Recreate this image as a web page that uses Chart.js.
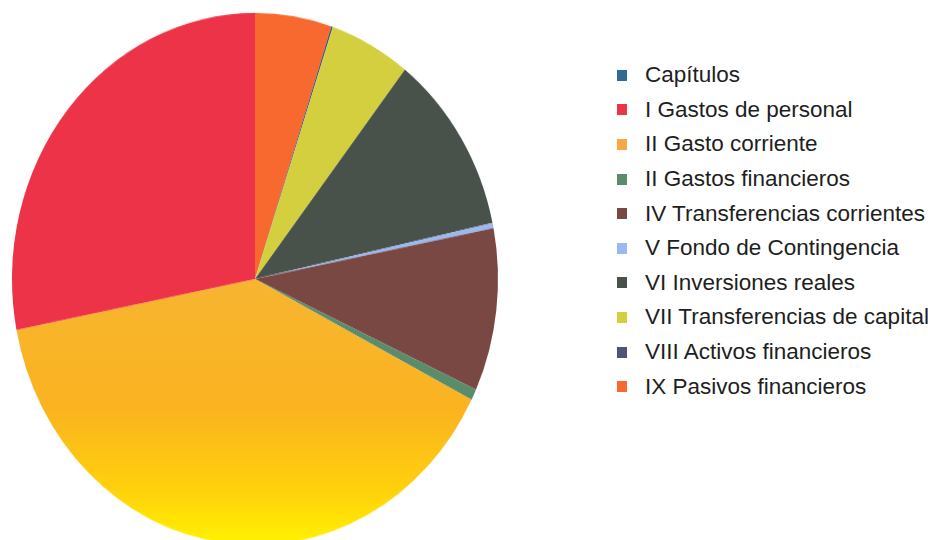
<!DOCTYPE html>
<html>
<head>
<meta charset="utf-8">
<script src="https://cdn.jsdelivr.net/npm/chart.js@4/dist/chart.umd.min.js"></script>
<style>
  html, body { margin: 0; padding: 0; background: #ffffff; }
  body { width: 928px; height: 540px; position: relative; overflow: hidden; }
  #pieWrap { position: absolute; left: 5px; top: 29px; width: 500px; height: 500px;
             transform: scaleY(1.095); transform-origin: 250px 250px; }
  #legend { position: absolute; left: 617px; top: 58px; margin: 0; padding: 0; list-style: none;
            font-family: "Liberation Sans", Arial, sans-serif; font-size: 22.5px; color: #1e1e1e; }
  #legend li { height: 34.6px; line-height: 26px; white-space: nowrap; display: flex; align-items: center; }
  #legend li span.box { display: inline-block; width: 10px; height: 11px; margin-right: 18px; }
</style>
</head>
<body>
<div id="pieWrap"><canvas id="pie" width="500" height="500"></canvas></div>
<ul id="legend"></ul>
<script>
// Legend order (as in the reference)
const categories = [
  "Capítulos",
  "I Gastos de personal",
  "II Gasto corriente",
  "II Gastos financieros",
  "IV Transferencias corrientes",
  "V Fondo de Contingencia",
  "VI Inversiones reales",
  "VII Transferencias de capital",
  "VIII Activos financieros",
  "IX Pasivos financieros"
];
// Share of the total (%)
const values = [0, 28.06, 39.44, 0.67, 9.89, 0.33, 11.03, 5.39, 0.11, 5.08];
const colors = ["#2f6b93", "#ec3348", "#f6a845", "#5a8c6c", "#7a4843", "#9bb9f0", "#48514a", "#d3cf3f", "#4e5478", "#f8692f"];

// Slices run counter-clockwise from the top in the reference: reverse data for Chart.js
const rLabels = categories.slice().reverse();
const rValues = values.slice().reverse();
const rColors = colors.slice().reverse();
const goldLabel = "II Gasto corriente";

new Chart(document.getElementById("pie"), {
  type: "pie",
  data: {
    labels: rLabels,
    datasets: [{
      data: rValues,
      borderWidth: 0,
      backgroundColor: function (ctx) {
        const lbl = rLabels[ctx.dataIndex];
        if (lbl === goldLabel) {
          const c = ctx.chart.ctx;
          const g = c.createLinearGradient(0, 240, 0, 495);
          g.addColorStop(0, "#f7b532");
          g.addColorStop(0.5, "#fbb320");
          g.addColorStop(0.8, "#ffd20c");
          g.addColorStop(1, "#fff400");
          return g;
        }
        return rColors[ctx.dataIndex];
      }
    }]
  },
  options: {
    responsive: false,
    animation: false,
    events: [],
    layout: { padding: 7 },
    plugins: { legend: { display: false }, tooltip: { enabled: false } }
  }
});

const ul = document.getElementById("legend");
categories.forEach((c, i) => {
  const li = document.createElement("li");
  const b = document.createElement("span");
  b.className = "box";
  b.style.background = colors[i];
  li.appendChild(b);
  li.appendChild(document.createTextNode(c));
  ul.appendChild(li);
});
</script>
</body>
</html>
